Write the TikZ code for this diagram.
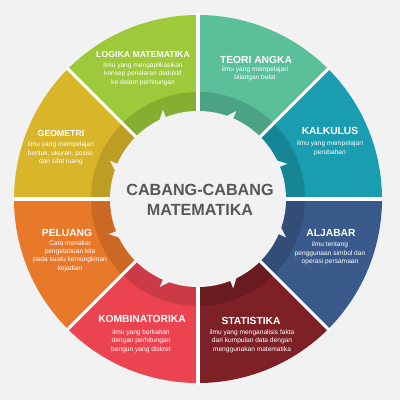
\documentclass[tikz,border=0pt]{standalone}
\usepackage{fontspec}
\setmainfont{Liberation Sans}
\definecolor{bggrey}{HTML}{F2F2F2}
\definecolor{centregrey}{HTML}{575757}
\definecolor{logika}{HTML}{9DC93B}
\definecolor{logikadark}{HTML}{86AE31}
\definecolor{teori}{HTML}{5BBF9A}
\definecolor{teoridark}{HTML}{4CA383}
\definecolor{kalkulus}{HTML}{1A9DB0}
\definecolor{kalkulusdark}{HTML}{168697}
\definecolor{aljabar}{HTML}{3A5A8C}
\definecolor{aljabardark}{HTML}{314D78}
\definecolor{statistika}{HTML}{7E2127}
\definecolor{statistikadark}{HTML}{6A1B20}
\definecolor{kombi}{HTML}{EB4450}
\definecolor{kombidark}{HTML}{CC3A45}
\definecolor{peluang}{HTML}{E8792B}
\definecolor{peluangdark}{HTML}{CB6924}
\definecolor{geometri}{HTML}{D9B52A}
\definecolor{geometridark}{HTML}{BD9D24}

\begin{document}
\begin{tikzpicture}[x=0.025cm, y=0.025cm,
    title/.style={text=white, inner sep=0pt, font=\bfseries\fontsize{7.3}{9}\selectfont},
    smalltitle/.style={title, font=\bfseries\fontsize{6.2}{8}\selectfont},
    info/.style={text=white, align=center, inner sep=0pt, font=\fontsize{4.7}{6}\selectfont}]
        \fill[bggrey] (-198,-201) rectangle (202,199);

        % Draw the segments
        \fill[teori]      (0,0) -- (45:184)  arc[start angle=45,  end angle=90,  radius=184] -- cycle;
        \fill[kalkulus]   (0,0) -- (0:184)   arc[start angle=0,   end angle=45,  radius=184] -- cycle;
        \fill[aljabar]    (0,0) -- (-45:184) arc[start angle=-45, end angle=0,   radius=184] -- cycle;
        \fill[statistika] (0,0) -- (-90:184) arc[start angle=-90, end angle=-45, radius=184] -- cycle;
        \fill[kombi]      (0,0) -- (225:184) arc[start angle=225, end angle=270, radius=184] -- cycle;
        \fill[peluang]    (0,0) -- (180:184) arc[start angle=180, end angle=225, radius=184] -- cycle;
        \fill[geometri]   (0,0) -- (135:184) arc[start angle=135, end angle=180, radius=184] -- cycle;
        \fill[logika]     (0,0) -- (90:184)  arc[start angle=90,  end angle=135, radius=184] -- cycle;

        % Darker inner bands
        \fill[teoridark]      (0,0) -- (45:107)  arc[start angle=45,  end angle=90,  radius=107] -- cycle;
        \fill[kalkulusdark]   (0,0) -- (0:107)   arc[start angle=0,   end angle=45,  radius=107] -- cycle;
        \fill[aljabardark]    (0,0) -- (-45:107) arc[start angle=-45, end angle=0,   radius=107] -- cycle;
        \fill[statistikadark] (0,0) -- (-90:107) arc[start angle=-90, end angle=-45, radius=107] -- cycle;
        \fill[kombidark]      (0,0) -- (225:107) arc[start angle=225, end angle=270, radius=107] -- cycle;
        \fill[peluangdark]    (0,0) -- (180:107) arc[start angle=180, end angle=225, radius=107] -- cycle;
        \fill[geometridark]   (0,0) -- (135:107) arc[start angle=135, end angle=180, radius=107] -- cycle;
        \fill[logikadark]     (0,0) -- (90:107)  arc[start angle=90,  end angle=135, radius=107] -- cycle;

        % White gaps
        \foreach \a in {0,45,...,315}
            \draw[white, line width=2.2pt] (0,0) -- (\a:186);

        % Centre with notches
        \fill[bggrey] (0,0) circle[radius=88];
        \foreach \m in {22.5,67.5,...,337.5}
            \fill[bggrey] (\m+4:87) -- (\m-1:96) -- (\m-1:87) -- cycle;

        \node[text=centregrey, align=center, inner sep=0pt,
              font=\bfseries\fontsize{11.5}{14.5}\selectfont] (centre) at (2,-1)
              {CABANG-CABANG\\MATEMATIKA};

        % Labels
        \node[smalltitle] (logikaT) at (-55,144) {LOGIKA MATEMATIKA};
        \node[info] (logikaI) at (-55,125) {ilmu yang mengaplikasikan\\konsep penalaran deduktif\\ke dalam perhitungan};

        \node[title] (teoriT) at (58,139) {TEORI ANGKA};
        \node[info] (teoriI) at (57,125) {ilmu yang mempelajari\\bilangan bulat};

        \node[title] (kalkulusT) at (132,68) {KALKULUS};
        \node[info] (kalkulusI) at (132,50.5) {ilmu yang mempelajari\\perubahan};

        \node[smalltitle] (geometriT) at (-137,65) {GEOMETRI};
        \node[info] (geometriI) at (-137,45.5) {ilmu yang mempelajari\\bentuk, ukuran, posisi,\\dan sifat ruang};

        \node[title] (peluangT) at (-131,-34) {PELUANG};
        \node[info] (peluangI) at (-128,-57) {Cara menakar\\pengetahuan kita\\pada suatu kemungkinan\\kejadian};

        \node[title] (aljabarT) at (133,-34) {ALJABAR};
        \node[info] (aljabarI) at (132,-54.5) {ilmu tentang\\penggunaan simbol dan\\operasi persamaan};

        \node[title] (kombiT) at (-56,-120) {KOMBINATORIKA};
        \node[info] (kombiI) at (-57,-142) {ilmu yang berkaitan\\dengan perhitungan\\bangun yang diskret};

        \node[title] (statistikaT) at (53,-122) {STATISTIKA};
        \node[info] (statistikaI) at (54,-142) {ilmu yang menganalisis fakta\\dari kumpulan data dengan\\menggunakan matematika};
    \end{tikzpicture}
\end{document}
